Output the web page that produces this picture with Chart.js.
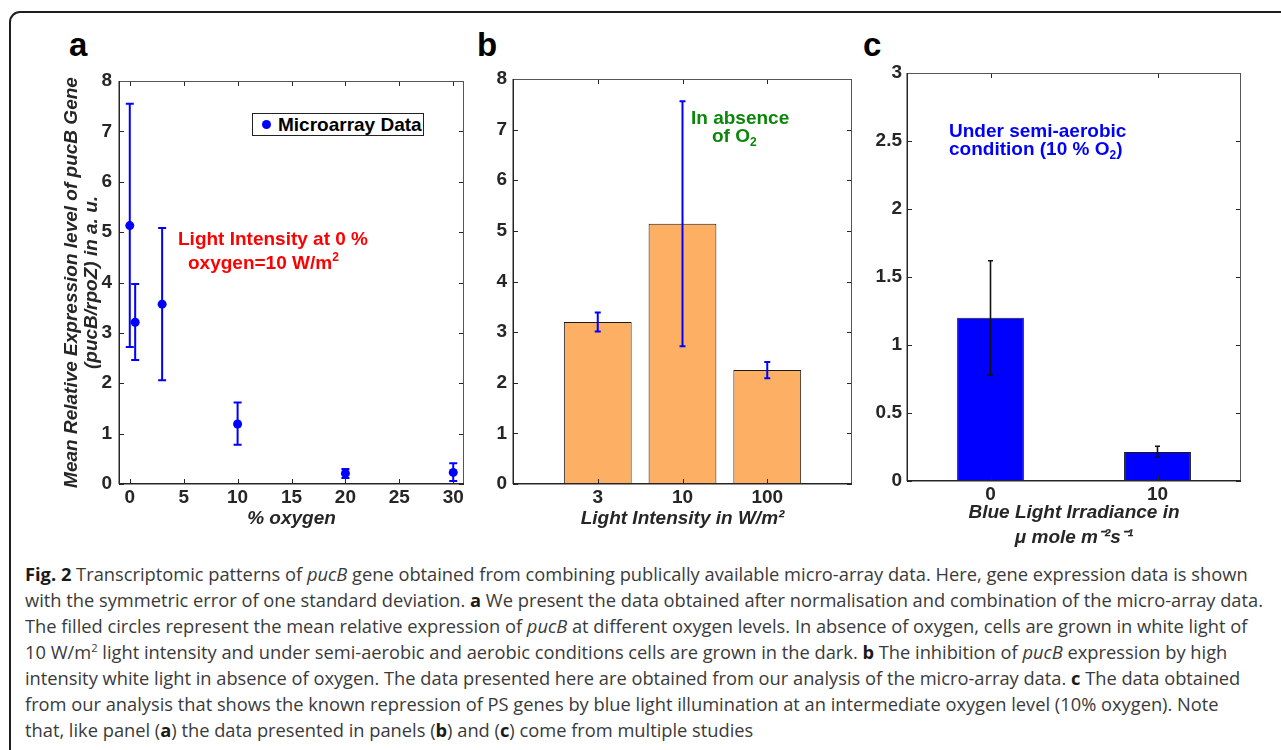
<!DOCTYPE html>
<html>
<head>
<meta charset="utf-8">
<script src="https://cdn.jsdelivr.net/npm/chart.js@4"></script>
<style>
html,body{margin:0;padding:0;background:#fff;}
body{width:1281px;height:750px;overflow:hidden;position:relative;font-family:'Liberation Sans',Arial,sans-serif;}
.frame{position:absolute;left:9px;top:11px;width:1330px;height:800px;border:2px solid #1e1e1e;border-radius:11px;box-sizing:border-box;}
canvas{position:absolute;}
.lbl{position:absolute;font-weight:bold;font-size:33px;line-height:33px;color:#000;}
.ann{position:absolute;font-weight:bold;font-size:19px;white-space:nowrap;}
.ann sup{font-size:12px;line-height:0;vertical-align:8px;}
.ann sub{font-size:12px;line-height:0;vertical-align:-4px;}
.legend{position:absolute;left:252px;top:113px;width:172px;height:23px;border:1px solid #222;box-sizing:border-box;background:#fff;}
.legend .dot{position:absolute;left:9px;top:6px;width:9px;height:9px;border-radius:50%;background:#0000ff;}
.legend .txt{position:absolute;left:25px;top:0px;font-weight:bold;font-size:19px;line-height:21px;color:#000;white-space:nowrap;}
.caption{position:absolute;left:25px;top:561px;font-family:'Open Sans',sans-serif;font-size:18px;line-height:26px;color:#3a3a3a;white-space:nowrap;transform-origin:0 0;}
.caption b{color:#1a1a1a;}
.caption sup{font-size:11px;line-height:0;vertical-align:7px;}
</style>
</head>
<body>
<div class="frame"></div>

<div class="lbl" style="left:69px;top:28px;">a</div>
<div class="lbl" style="left:477px;top:28px;">b</div>
<div class="lbl" style="left:863px;top:28px;">c</div>

<canvas id="chartA" width="430" height="510" style="left:50px;top:30px;"></canvas>
<canvas id="chartB" width="400" height="510" style="left:470px;top:30px;"></canvas>
<canvas id="chartC" width="400" height="530" style="left:860px;top:30px;"></canvas>

<div class="legend"><div class="dot"></div><div class="txt">Microarray Data</div></div>
<div class="ann" style="left:178px;top:227px;line-height:24px;color:#ff0000;">Light Intensity at 0 %<br><span style="padding-left:10px">oxygen=10 W/m<sup>2</sup></span></div>
<div class="ann" style="left:691px;top:109px;line-height:18px;color:#0a870a;">In absence<br><span style="padding-left:21px">of O<sub>2</sub></span></div>
<div class="ann" style="left:949px;top:122px;line-height:18px;color:#0000ff;">Under semi-aerobic<br>condition (10 % O<sub>2</sub>)</div>

<div class="caption" id="caption">
<div id="capLine1"><b>Fig. 2</b> Transcriptomic patterns of <i>pucB</i> gene obtained from combining publically available micro-array data. Here, gene expression data is shown</div>
<div>with the symmetric error of one standard deviation. <b>a</b> We present the data obtained after normalisation and combination of the micro-array data.</div>
<div>The filled circles represent the mean relative expression of <i>pucB</i> at different oxygen levels. In absence of oxygen, cells are grown in white light of</div>
<div>10 W/m<sup>2</sup> light intensity and under semi-aerobic and aerobic conditions cells are grown in the dark. <b>b</b> The inhibition of <i>pucB</i> expression by high</div>
<div>intensity white light in absence of oxygen. The data presented here are obtained from our analysis of the micro-array data. <b>c</b> The data obtained</div>
<div>from our analysis that shows the known repression of PS genes by blue light illumination at an intermediate oxygen level (10% oxygen). Note</div>
<div>that, like panel (<b>a</b>) the data presented in panels (<b>b</b>) and (<b>c</b>) come from multiple studies</div>
</div>

<script>
// ---------- Panel a: % oxygen vs mean relative expression ----------
const oxygenLevels = [0, 0.5, 3, 10, 20, 30];
const meanA = [5.13, 3.21, 3.57, 1.19, 0.21, 0.23];
const lowA  = [2.72, 2.46, 2.06, 0.78, 0.12, 0.06];
const highA = [7.55, 3.97, 5.08, 1.62, 0.30, 0.41];

// ---------- Panel b: light intensity (W/m2) ----------
const lightCats = ['3', '10', '100'];
const meanB = [3.20, 5.14, 2.25];
const lowB  = [3.01, 2.72, 2.09];
const highB = [3.39, 7.56, 2.41];

// ---------- Panel c: blue light irradiance ----------
const blueCats = ['0', '10'];
const meanC = [1.20, 0.213];
const lowC  = [0.78, 0.176];
const highC = [1.62, 0.255];

// tick values / labels
const yTicksA = {min: 0, max: 8, step: 1};
const xTicksA = {min: -1, max: 31, step: 5};
const yTicksB = {min: 0, max: 8, step: 1};
const yTicksC = {min: 0, max: 3, step: 0.5};

const AXIS_COLOR = '#262626';
const FAMILY = "'Liberation Sans', Arial, sans-serif";
const tickFont = {family: FAMILY, size: 19, weight: 'bold'};
const titleFont = {family: FAMILY, size: 19, weight: 'bold', style: 'italic', lineHeight: 1.2};

// Plugin: MATLAB-like box with inward tick marks
const boxPlugin = {
  id: 'matlabBox',
  afterDraw(chart) {
    const {ctx, chartArea: a, scales} = chart;
    const xs = scales.x, ys = scales.y;
    const len = 5;
    ctx.save();
    ctx.strokeStyle = AXIS_COLOR;
    ctx.lineWidth = 1;
    ctx.beginPath();
    xs.ticks.forEach(t => {
      if (t.label === '' || t.label === undefined) return;
      const px = Math.round(xs.getPixelForValue(t.value)) + 0.5;
      ctx.moveTo(px, a.bottom); ctx.lineTo(px, a.bottom - len);
      ctx.moveTo(px, a.top); ctx.lineTo(px, a.top + len);
    });
    ys.ticks.forEach(t => {
      const py = Math.round(ys.getPixelForValue(t.value)) + 0.5;
      ctx.moveTo(a.left, py); ctx.lineTo(a.left + len, py);
      ctx.moveTo(a.right, py); ctx.lineTo(a.right - len, py);
    });
    ctx.stroke();
    // top / right border (lighter)
    ctx.strokeStyle = '#555';
    ctx.lineWidth = 1;
    ctx.beginPath();
    ctx.moveTo(a.left, a.top + 0.5); ctx.lineTo(a.right, a.top + 0.5);
    ctx.moveTo(a.right - 0.5, a.top); ctx.lineTo(a.right - 0.5, a.bottom);
    ctx.stroke();
    // left / bottom axes
    ctx.strokeStyle = AXIS_COLOR;
    ctx.lineWidth = 1.5;
    ctx.beginPath();
    ctx.moveTo(a.left + 0.25, a.top); ctx.lineTo(a.left + 0.25, a.bottom);
    ctx.moveTo(a.left, a.bottom - 0.25); ctx.lineTo(a.right, a.bottom - 0.25);
    ctx.stroke();
    ctx.restore();
  }
};

// Plugin: error bars from low/high arrays, positioned with the chart's scales
const errorBarPlugin = {
  id: 'errorBars',
  afterDatasetsDraw(chart, args, opts) {
    if (!opts || !opts.low) return;
    const {ctx} = chart;
    const ys = chart.scales.y;
    const meta = chart.getDatasetMeta(0);
    ctx.save();
    ctx.strokeStyle = opts.color;
    ctx.lineWidth = opts.width;
    meta.data.forEach((el, i) => {
      const x = el.x;
      const y1 = ys.getPixelForValue(opts.low[i]);
      const y2 = ys.getPixelForValue(opts.high[i]);
      ctx.beginPath();
      ctx.moveTo(x, y1); ctx.lineTo(x, y2);
      ctx.moveTo(x - opts.cap, y1); ctx.lineTo(x + opts.cap, y1);
      ctx.moveTo(x - opts.cap, y2); ctx.lineTo(x + opts.cap, y2);
      ctx.stroke();
    });
    ctx.restore();
  }
};

Chart.register(boxPlugin, errorBarPlugin);

function yScale(t, width, padding, title) {
  return {
    type: 'linear', min: t.min, max: t.max,
    grid: {display: false, drawTicks: false}, border: {display: false},
    ticks: {stepSize: t.step, padding: padding, color: AXIS_COLOR, font: tickFont,
            callback: v => String(v)},
    title: title ? {display: true, text: title, color: AXIS_COLOR, padding: 0,
                    font: Object.assign({}, titleFont, {lineHeight: 1.06})} : {display: false},
    afterFit: s => { s.width = width; }
  };
}

function xTitle(text, lh) {
  return {display: true, text: text, color: AXIS_COLOR, padding: 0,
          font: Object.assign({}, titleFont, {lineHeight: lh || 1.2})};
}

const baseOpts = {
  responsive: false, animation: false, devicePixelRatio: 1,
  plugins: {legend: {display: false}, tooltip: {enabled: false}}
};

// ---------- Chart a ----------
new Chart(document.getElementById('chartA'), {
  type: 'scatter',
  data: {datasets: [{
    label: 'Microarray Data',
    data: oxygenLevels.map((x, i) => ({x: x, y: meanA[i]})),
    backgroundColor: '#0000ff', borderWidth: 0, pointRadius: 4.5, showLine: false
  }]},
  options: Object.assign({}, baseOpts, {
    layout: {padding: {left: 12, top: 51, right: 16, bottom: 10}},
    plugins: Object.assign({}, baseOpts.plugins, {
      errorBars: {low: lowA, high: highA, color: '#0000ff', width: 2, cap: 4}
    }),
    scales: {
      x: {type: 'linear', min: xTicksA.min, max: xTicksA.max,
          grid: {display: false, drawTicks: false}, border: {display: false},
          ticks: {stepSize: xTicksA.step, includeBounds: false, padding: 2, color: AXIS_COLOR, font: tickFont, maxRotation: 0},
          title: xTitle('% oxygen'),
          afterFit: s => { s.height = 46; }},
      y: yScale(yTicksA, 57, 7, ['Mean Relative Expression level of pucB Gene', '(pucB/rpoZ) in a. u.'])
    }
  })
});

// ---------- Chart b ----------
new Chart(document.getElementById('chartB'), {
  type: 'bar',
  data: {datasets: [{
    data: lightCats.map((c, i) => ({x: i + 1, y: meanB[i]})),
    backgroundColor: '#fdb064', borderColor: '#1a1a1a', borderWidth: 1,
    barPercentage: 0.8, categoryPercentage: 1
  }]},
  options: Object.assign({}, baseOpts, {
    layout: {padding: {left: 0, top: 49, right: 18, bottom: 10}},
    plugins: Object.assign({}, baseOpts.plugins, {
      errorBars: {low: lowB, high: highB, color: '#0000ff', width: 2, cap: 3}
    }),
    scales: {
      x: {type: 'linear', min: 0, max: lightCats.length + 1, offset: false,
          grid: {display: false, drawTicks: false}, border: {display: false},
          ticks: {stepSize: 1, padding: 2, color: AXIS_COLOR, font: tickFont, maxRotation: 0, autoSkip: false,
                  callback: v => lightCats[v - 1] !== undefined ? lightCats[v - 1] : ''},
          title: xTitle('Light Intensity in W/m\u00B2'),
          afterFit: s => { s.height = 46; }},
      y: yScale(yTicksB, 43, 6, null)
    }
  })
});

// ---------- Chart c ----------
new Chart(document.getElementById('chartC'), {
  type: 'bar',
  data: {datasets: [{
    data: blueCats.map((c, i) => ({x: 2 * i + 1, y: meanC[i]})),
    backgroundColor: '#0000ff', borderColor: '#1a1a1a', borderWidth: 1,
    barPercentage: 0.8, categoryPercentage: 1
  }]},
  options: Object.assign({}, baseOpts, {
    layout: {padding: {left: 0, top: 43, right: 19, bottom: 10}},
    plugins: Object.assign({}, baseOpts.plugins, {
      errorBars: {low: lowC, high: highC, color: '#111', width: 1.6, cap: 2.5}
    }),
    scales: {
      x: {type: 'linear', min: 0, max: 2 * blueCats.length, offset: false,
          grid: {display: false, drawTicks: false}, border: {display: false},
          ticks: {stepSize: 1, padding: 2, color: AXIS_COLOR, font: tickFont, maxRotation: 0, autoSkip: false,
                  callback: v => (v % 2 === 1 && blueCats[(v - 1) / 2] !== undefined) ? blueCats[(v - 1) / 2] : ''},
          title: xTitle(['Blue Light Irradiance in', '\u03BC mole m\u207B\u00B2s\u207B\u00B9'], 1.3),
          afterFit: s => { s.height = 69; }},
      y: yScale(yTicksC, 47, 5, null)
    }
  })
});

// fit caption line width to the figure width
(function () {
  const cap = document.getElementById('caption');
  const l1 = document.getElementById('capLine1');
  const target = 1238;
  const w = l1.getBoundingClientRect().width;
  if (w > 0) cap.style.transform = 'scaleX(' + (target / w) + ')';
})();
</script>
</body>
</html>
